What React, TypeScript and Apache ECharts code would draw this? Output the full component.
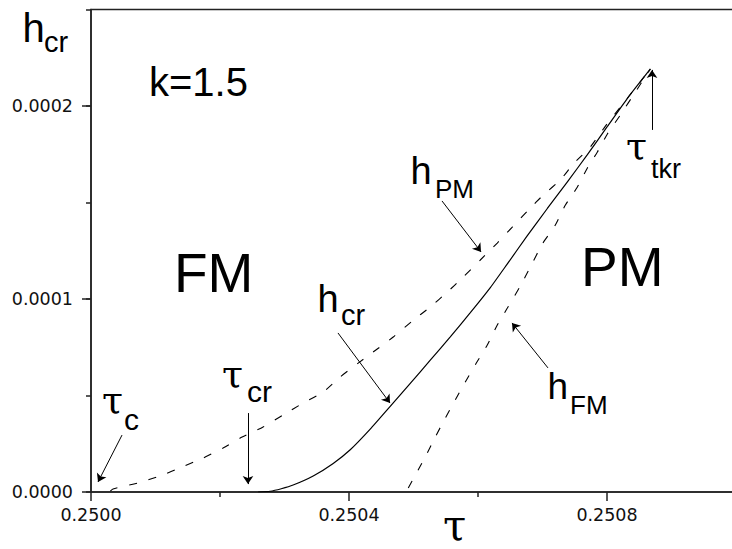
import React, { useEffect, useRef } from "react";
import * as echarts from "echarts";

// h_PM (dashed, upper)
const tauPM = [0.25003, 0.2500341, 0.2500729, 0.2501071, 0.2501412, 0.2501738, 0.2502048, 0.2502343, 0.2502669, 0.2502979, 0.2503289, 0.25036, 0.2503863, 0.2504143, 0.2504438, 0.2504686, 0.2504981, 0.250526, 0.2505524, 0.2505772, 0.2506036, 0.2506299, 0.2506532, 0.2506781, 0.2507013, 0.2507277, 0.2507479, 0.2507742, 0.2507975, 0.2508208, 0.2508441, 0.2508673];
const hPM = [0.5e-6, 1.6e-6, 4.7e-6, 8.3e-6, 13.0e-6, 17.6e-6, 22.8e-6, 28.5e-6, 33.7e-6, 39.9e-6, 46.1e-6, 51.8e-6, 59.6e-6, 66.8e-6, 74.1e-6, 80.3e-6, 88.6e-6, 95.9e-6, 103.6e-6, 111.4e-6, 120.2e-6, 129.0e-6, 137.3e-6, 146.1e-6, 153.9e-6, 161.7e-6, 170.0e-6, 178.8e-6, 189.6e-6, 199.5e-6, 209.3e-6, 219.2e-6];

// h_cr (solid)
const tauCR = [0.2502591, 0.2502777, 0.2502950, 0.2503134, 0.2503445, 0.2503755, 0.2504019, 0.2504329, 0.2504639, 0.250495, 0.250526, 0.250557, 0.2505881, 0.2506191, 0.2506455, 0.2506765, 0.2507075, 0.2507386, 0.2507696, 0.2508006, 0.2508317, 0.2508673];
const hCR = [0, 0.4e-6, 1.7e-6, 3.6e-6, 8.3e-6, 14.8e-6, 21.9e-6, 32.6e-6, 44.4e-6, 56.3e-6, 68.3e-6, 80.4e-6, 92.9e-6, 105.9e-6, 118.2e-6, 132.8e-6, 146.9e-6, 160.7e-6, 174.8e-6, 189.4e-6, 204.0e-6, 219.2e-6];

// h_FM (dashed, lower right)
const tauFM = [0.2504919, 0.2505182, 0.2505338, 0.2505493, 0.2505648, 0.2505803, 0.2505974, 0.2506144, 0.2506299, 0.2506455, 0.2506656, 0.2506811, 0.2506998, 0.2507199, 0.2507355, 0.2507541, 0.2507696, 0.2507851, 0.2508006, 0.2508208, 0.2508441, 0.2508673];
const hFM = [2.1e-6, 18.1e-6, 28.5e-6, 38.3e-6, 47.7e-6, 57.0e-6, 66.8e-6, 76.2e-6, 86.5e-6, 95.3e-6, 106.7e-6, 116.6e-6, 128.5e-6, 138.3e-6, 148.7e-6, 158.0e-6, 167.9e-6, 176.2e-6, 185.5e-6, 195.4e-6, 207.3e-6, 219.2e-6];

// annotation arrows (h_PM, h_cr, tau_cr, tau_c, h_FM, tau_tkr)
const arrowFromTau = [0.2505442, 0.2503829, 0.2502434, 0.2500481, 0.2507085, 0.2508698];
const arrowFromH = [150.8e-6, 82.4e-6, 40.9e-6, 29.5e-6, 64.3e-6, 187.6e-6];
const arrowToTau = [0.2506047, 0.2504636, 0.2502434, 0.2500109, 0.2506527, 0.2508698];
const arrowToH = [124.4e-6, 46.1e-6, 4.1e-6, 5.2e-6, 87.6e-6, 218.7e-6];

const xMin = 0.25;
const xMax = 0.2512;
const xInterval = 0.0004;
const xLastLabel = 0.2508;
const yMax = 0.00025;
const yMinorInterval = 0.00005;
const yLabelMax = 0.0002;
const yLabelInterval = 0.0001;

const SANS = '"Liberation Sans", Arial, sans-serif';
const GREEK = '"DejaVu Serif", "Liberation Serif", serif';
const TICKFONT = '"DejaVu Sans", sans-serif';

const zip = (a: number[], b: number[]) => a.map((v, i) => [v, b[i]]);

export default function App() {
  const ref = useRef<HTMLDivElement>(null);
  useEffect(() => {
    document.body.style.margin = "0";
    document.body.style.overflow = "hidden";
    const chart = echarts.init(ref.current!, null, { renderer: "svg" });
    const axisColor = "#222";
    const texts: [string, number, number, number, string][] = [
      ["h", 22.5, 27.5, 40, SANS],
      ["cr", 44, 42, 29, SANS],
      ["k=1.5", 149, 82, 40, SANS],
      ["FM", 174, 272.5, 55, SANS],
      ["PM", 581, 266.5, 55, SANS],
      ["h", 410.5, 171, 38, SANS],
      ["PM", 435, 189, 26, SANS],
      ["h", 317.5, 299, 38, SANS],
      ["cr", 341, 315, 29, SANS],
      ["h", 547.5, 386.5, 37, SANS],
      ["FM", 570, 405, 26, SANS],
      ["τ", 222, 374, 38, GREEK],
      ["cr", 247, 391.6, 30, SANS],
      ["τ", 102, 400, 38, GREEK],
      ["c", 124, 419.6, 30, SANS],
      ["τ", 626, 146, 38, GREEK],
      ["tkr", 651, 168.6, 27, SANS],
      ["τ", 443, 525, 42, GREEK],
    ];
    const option: any = {
      animation: false,
      backgroundColor: "#fff",
      grid: [
        { left: 91, top: 9.5, width: 774, height: 482.5, show: true, borderColor: axisColor, borderWidth: 1.5, backgroundColor: "transparent" },
        { left: 91, top: 106, width: 774, height: 386, show: false },
      ],
      xAxis: [
        {
          gridIndex: 0, type: "value", min: xMin, max: xMax, interval: xInterval,
          axisLine: { show: true, onZero: false, lineStyle: { color: axisColor, width: 1.5 } },
          axisTick: { show: true, length: 9, lineStyle: { color: axisColor, width: 1.5 } },
          minorTick: { show: true, splitNumber: 2, length: 5, lineStyle: { color: axisColor, width: 1.5 } },
          splitLine: { show: false },
          axisLabel: {
            formatter: (v: number) => (v > xLastLabel + 1e-7 ? "" : v.toFixed(4)),
            showMaxLabel: false,
            fontFamily: TICKFONT, fontSize: 17.5, color: "#111", margin: 14,
          },
        },
        { gridIndex: 1, type: "value", min: xMin, max: xMax, show: false },
      ],
      yAxis: [
        {
          gridIndex: 0, type: "value", min: 0, max: yMax, interval: yMinorInterval,
          axisLine: { show: true, onZero: false, lineStyle: { color: axisColor, width: 1.5 } },
          axisTick: { show: true, length: 5, lineStyle: { color: axisColor, width: 1.5 } },
          axisLabel: { show: false },
          splitLine: { show: false },
        },
        {
          gridIndex: 1, type: "value", min: 0, max: yLabelMax, interval: yLabelInterval,
          axisLine: { show: false },
          axisTick: { show: true, length: 9, lineStyle: { color: axisColor, width: 1.5 } },
          axisLabel: { formatter: (v: number) => v.toFixed(4), fontFamily: TICKFONT, fontSize: 17.5, color: "#111", margin: 18 },
          splitLine: { show: false },
        },
      ],
      series: [
        {
          type: "line", xAxisIndex: 0, yAxisIndex: 0, data: zip(tauPM, hPM), showSymbol: false, silent: true,
          smooth: 0.2,
          lineStyle: { color: "#000", width: 1.1, type: [8, 12] },
        },
        {
          type: "line", xAxisIndex: 0, yAxisIndex: 0, data: zip(tauFM, hFM), showSymbol: false, silent: true,
          smooth: 0.2,
          lineStyle: { color: "#000", width: 1.1, type: [8, 12] },
        },
        {
          type: "line", xAxisIndex: 0, yAxisIndex: 0, data: zip(tauCR, hCR), showSymbol: false, silent: true,
          smooth: 0.2,
          lineStyle: { color: "#000", width: 1.2, type: "solid" },
          markLine: {
            silent: true,
            symbol: ["none", "arrow"],
            symbolSize: 8,
            label: { show: false },
            lineStyle: { color: "#000", width: 1, type: "solid" },
            data: arrowFromTau.map((t, i) => [
              { coord: [t, arrowFromH[i]] },
              { coord: [arrowToTau[i], arrowToH[i]] },
            ]),
          },
        },
      ],
      graphic: texts.map(([t, x, y, fs, ff]) => ({
        type: "text", x, y, silent: true,
        style: { text: t, fontSize: fs, fontFamily: ff, fill: "#000", align: "left", verticalAlign: "middle" },
      })),
    };
    chart.setOption(option);
    return () => chart.dispose();
  }, []);
  return (
    <div style={{ width: 732, height: 549, overflow: "hidden", position: "relative" }}>
      <div ref={ref} style={{ width: 900, height: 549 }} />
    </div>
  );
}
